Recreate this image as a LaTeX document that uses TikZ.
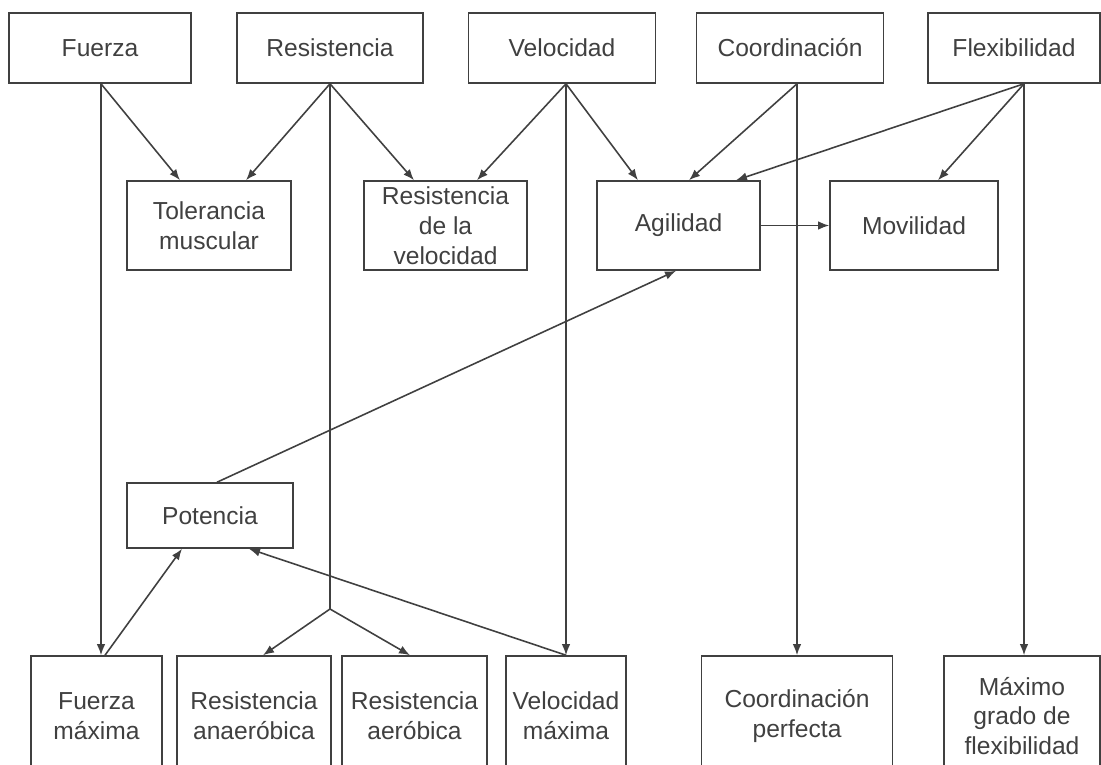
\documentclass[tikz,border=0pt]{standalone}
\usepackage{fontspec}
\setmainfont{Liberation Sans}
\usetikzlibrary{arrows.meta, calc}
\tikzset{
  % --- boxes (capacities, derived ones, results) ---
  capacidad/.style={
    draw=black!75, rectangle, line width=0.9pt, inner sep=0pt,
    align=center, text=black!75, font=\fontsize{14}{17}\selectfont,
    minimum height=1.4cm,
  },
  derivada/.style={capacidad, minimum height=1.78cm},
  potencia/.style={capacidad, minimum height=1.3cm},
  resultado/.style={capacidad, minimum height=2.4cm},
  % --- links ---
  enlace/.style={-{Latex[length=2.2mm, width=1.7mm]}, draw=black!75, line width=0.9pt},
  tramo/.style={draw=black!75, line width=0.9pt},
}

\begin{document}
\begin{tikzpicture}[x=0.02cm, y=-0.02cm]
    \useasboundingbox (0,0) rectangle (1101,764);
    \clip (0,0) rectangle (1101,764);
    % basic capacities
    \node[capacidad, minimum width=3.64cm] (fuerza) at (100,48)  {Fuerza};
    \node[capacidad, minimum width=3.72cm] (resist) at (330,48)  {Resistencia};
    \node[capacidad, minimum width=3.74cm] (veloc)  at (562,48)  {Velocidad};
    \node[capacidad, minimum width=3.74cm] (coord)  at (790,48)  {Coordinación};
    \node[capacidad, minimum width=3.44cm] (flexi)  at (1014,48) {Flexibilidad};
    % derived capacities
    \node[derivada, minimum width=3.28cm] (toler)  at (209,225.5)   {Tolerancia\\muscular};
    \node[derivada, minimum width=3.26cm] (resvel) at (445.5,225.5) {Resistencia\\de la\\velocidad};
    \node[derivada, minimum width=3.26cm] (agil)   at (678.5,225.5) {Agilidad};
    \node[derivada, minimum width=3.36cm] (movil)  at (914,225.5)   {Movilidad};
    \node[potencia, minimum width=3.32cm] (poten)  at (210,515.5)   {Potencia};
    % results
    \node[resultado, minimum width=2.62cm] (fmax)    at (96.5,716)  {Fuerza\\máxima};
    \node[resultado, minimum width=3.08cm] (ranaer)  at (254,716)   {Resistencia\\anaeróbica};
    \node[resultado, minimum width=2.90cm] (raer)    at (414.5,716) {Resistencia\\aeróbica};
    \node[resultado, minimum width=2.40cm] (vmax)    at (566,716)   {Velocidad\\máxima};
    \node[resultado, minimum width=3.82cm] (cperf)   at (797,716)   {Coordinación\\perfecta};
    \node[resultado, minimum width=3.12cm] (maxflex) at (1022,716)  {Máximo\\grado de\\flexibilidad};
    \coordinate (reparto) at (330,609);
    % links to the derived capacities
    \draw[enlace] ($(fuerza.south)+(1,0)$) -- ($(toler.north)+(-29,0)$);
    \draw[enlace] (resist.south) -- ($(toler.north)+(37,0)$);
    \draw[enlace] (resist.south) -- ($(resvel.north)+(-31.5,0)$);
    \draw[enlace] ($(veloc.south)+(4,0)$) -- ($(resvel.north)+(31.5,0)$);
    \draw[enlace] ($(veloc.south)+(4,0)$) -- ($(agil.north)+(-40.5,0)$);
    \draw[enlace] ($(coord.south)+(7,0)$) -- ($(agil.north)+(10.5,0)$);
    \draw[enlace] ($(flexi.south)+(10,0)$) -- ($(agil.north)+(57.5,0)$);
    \draw[enlace] ($(flexi.south)+(10,0)$) -- ($(movil.north)+(24,0)$);
    \draw[enlace] (agil) -- (movil);
    % links down to the results
    \draw[enlace] ($(fuerza.south)+(1,0)$) -- ($(fmax.north)+(4.5,0)$);
    \draw[tramo] (resist.south) -- (reparto);
    \draw[enlace] (reparto) -- ($(ranaer.north)+(9,0)$);
    \draw[enlace] (reparto) -- ($(raer.north)+(-4.5,0)$);
    \draw[enlace] ($(veloc.south)+(4,0)$) -- (vmax.north);
    \draw[enlace] ($(coord.south)+(7,0)$) -- (cperf.north);
    \draw[enlace] ($(flexi.south)+(10,0)$) -- ($(maxflex.north)+(2,0)$);
    % power
    \draw[enlace] ($(fmax.north)+(8.5,0)$) -- ($(poten.south)+(-28,0)$);
    \draw[enlace] (vmax.north) -- ($(poten.south)+(39,0)$);
    \draw[enlace] ($(poten.north)+(7,0)$) -- ($(agil.south)+(-2.5,0)$);
\end{tikzpicture}
\end{document}
